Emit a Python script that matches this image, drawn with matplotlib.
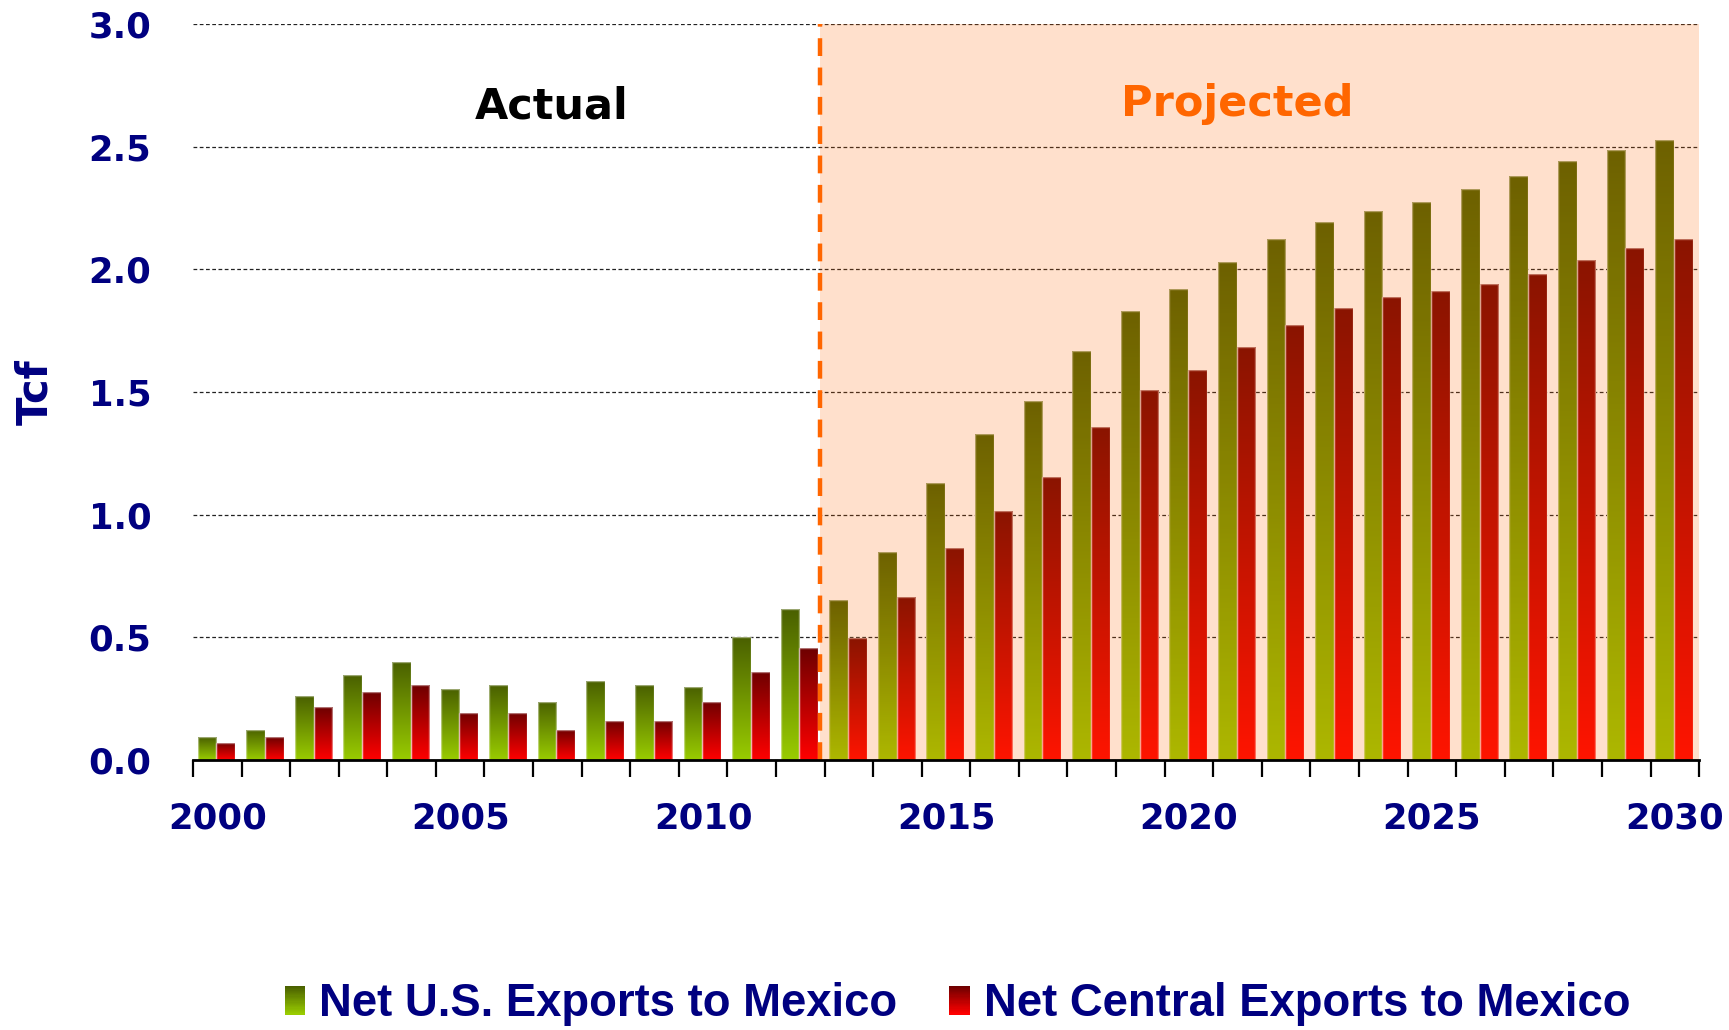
import numpy as np
import matplotlib
matplotlib.use('Agg')
import matplotlib.pyplot as plt
import matplotlib.colors as mcolors
from matplotlib.patches import Rectangle
from matplotlib.legend_handler import HandlerBase

years = list(range(2000, 2031))
us_exports = [0.093, 0.123, 0.260, 0.344, 0.397, 0.290, 0.305, 0.237, 0.322, 0.305,
              0.299, 0.499, 0.615, 0.651, 0.849, 1.129, 1.327, 1.463, 1.669, 1.831,
              1.921, 2.029, 2.123, 2.192, 2.237, 2.276, 2.329, 2.381, 2.442, 2.489, 2.527]
central_exports = [0.070, 0.093, 0.215, 0.275, 0.305, 0.192, 0.192, 0.123, 0.160, 0.160,
                   0.237, 0.359, 0.456, 0.496, 0.666, 0.865, 1.016, 1.153, 1.357, 1.508,
                   1.592, 1.684, 1.773, 1.844, 1.889, 1.913, 1.942, 1.980, 2.040, 2.086, 2.124]
series_names = ['Net U.S. Exports to Mexico', 'Net Central Exports to Mexico']
year_labels = [2000, 2005, 2010, 2015, 2020, 2025, 2030]

navy = '#000080'
green_top, green_bot = '#4a6000', '#99cc00'
red_top, red_bot = '#6e0000', '#ff0000'
split = 12.4   # actual / projected divider

fig = plt.figure(figsize=(17.29, 10.30), dpi=100)
ax = fig.add_axes([0.1116, 0.2623, 0.8711, 0.7141])

x = np.arange(len(years))
w = 0.385


def grad_bars(xpos, vals, top, bot):
    cmap = mcolors.LinearSegmentedColormap.from_list('g', [bot, top])
    grad = np.linspace(0, 1, 256).reshape(-1, 1)
    bars = ax.bar(xpos, vals, w, facecolor='none', edgecolor=(1, 1, 1, 0.45),
                  linewidth=1, zorder=2.5)
    for b in bars:
        im = ax.imshow(grad, cmap=cmap, origin='lower', aspect='auto', zorder=2,
                       extent=[b.get_x(), b.get_x() + b.get_width(), 0, b.get_height()])
        im.set_clip_path(b)
    return bars


grad_bars(x - 0.21, us_exports, green_top, green_bot)
grad_bars(x + 0.175, central_exports, red_top, red_bot)

ax.set_xlim(-0.5, len(years) - 0.5)
ax.set_ylim(0, 3.0)

# projected shading drawn over the bars
ax.axvspan(split, len(years) - 0.5, color='#ff6600', alpha=0.2, lw=0, zorder=3)
ax.axvline(split, color='#ff6600', lw=3.2, dashes=(4, 2.6), zorder=4)

ax.text(6.88, 2.665, 'Actual', ha='center', va='center', fontsize=31,
        fontweight='bold', color='black', zorder=5)
ax.text(21.0, 2.675, 'Projected', ha='center', va='center', fontsize=31,
        fontweight='bold', color='#ff6600', zorder=5)

# grid / axes styling
ax.set_yticks(np.arange(0, 3.01, 0.5))
ax.set_yticklabels(['%.1f' % v for v in np.arange(0, 3.01, 0.5)])
ax.yaxis.grid(True, color='#222222', lw=0.9, linestyle=(0, (3, 2)))
ax.set_axisbelow(True)
for s in ['top', 'right', 'left']:
    ax.spines[s].set_visible(False)
ax.spines['bottom'].set_linewidth(2)
ax.spines['bottom'].set_zorder(6)

ax.set_xticks([years.index(y) for y in year_labels])
ax.set_xticklabels([str(y) for y in year_labels])
ax.set_xticks(np.arange(-0.5, len(years)), minor=True)
ax.tick_params(axis='x', which='major', length=0, pad=30, labelsize=25.5,
               labelcolor=navy)
ax.tick_params(axis='x', which='minor', length=12.5, width=1.6, color='black')
ax.tick_params(axis='y', length=0, pad=30, labelsize=25.5, labelcolor=navy)
for lab in ax.get_xticklabels() + ax.get_yticklabels():
    lab.set_fontweight('bold')

ax.set_ylabel('Tcf', fontsize=30, fontweight='bold', color=navy, va='center')
ax.yaxis.set_label_coords(-0.105, 0.5)


class GradHandler(HandlerBase):
    def __init__(self, top, bot, n=24):
        super().__init__()
        self.top = np.array(mcolors.to_rgb(top))
        self.bot = np.array(mcolors.to_rgb(bot))
        self.n = n

    def create_artists(self, legend, orig_handle, xdescent, ydescent,
                       width, height, fontsize, trans):
        arts = []
        hh = height / self.n
        for k in range(self.n):
            f = k / (self.n - 1)
            c = self.bot * (1 - f) + self.top * f
            arts.append(Rectangle((-xdescent, -ydescent + k * hh), width, hh * 1.05,
                                  facecolor=c, edgecolor='none', transform=trans))
        return arts


h1 = Rectangle((0, 0), 1, 1)
h2 = Rectangle((0, 0), 1, 1)
leg = fig.legend([h1, h2], series_names, loc='center', bbox_to_anchor=(0.5537, 0.025),
                 ncol=2, frameon=False, handlelength=0.45, handleheight=0.6,
                 handletextpad=0.3, columnspacing=1.15,
                 handler_map={h1: GradHandler(green_top, green_bot),
                              h2: GradHandler(red_top, red_bot)},
                 prop={'family': 'Liberation Sans', 'weight': 'bold', 'size': 32.8})
for t in leg.get_texts():
    t.set_color(navy)

fig.savefig('out.png', dpi=100)
